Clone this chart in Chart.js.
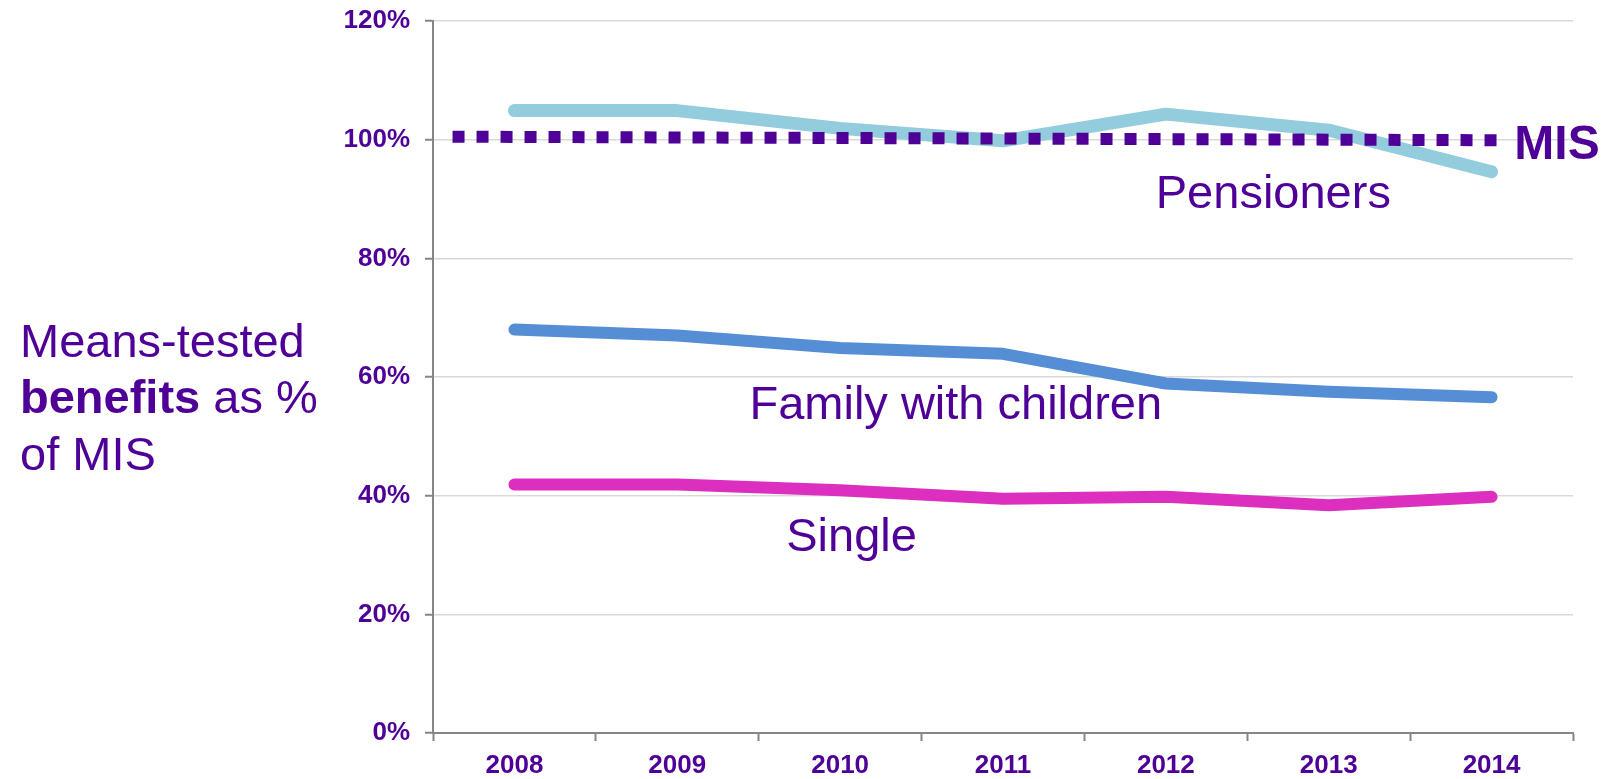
<!DOCTYPE html>
<html>
<head>
<meta charset="utf-8">
<script src="https://cdn.jsdelivr.net/npm/chart.js@4.4.1/dist/chart.umd.min.js"></script>
<style>
  html, body { margin: 0; padding: 0; background: #fff; }
  #wrap { width: 1602px; height: 779px; }
</style>
</head>
<body>
<div id="wrap"><canvas id="benefitsChart" width="1602" height="779"></canvas></div>
<script>
// values (percent of MIS)
const years = ["2008", "2009", "2010", "2011", "2012", "2013", "2014"];
const pensioners = [104.9, 104.9, 101.9, 99.8, 104.3, 101.6, 94.6];
const families = [68.0, 67.0, 64.9, 63.9, 58.9, 57.5, 56.6];
const singles = [41.9, 41.9, 40.9, 39.5, 39.8, 38.4, 39.8];

// MIS reference line, x in category units (0 = 2008)
const misX = [-0.38, 6.1];
const misValues = [100.5, 99.9];

const yTicks = [0, 20, 40, 60, 80, 100, 120];

// series labels placed in data units: [text, x, y, bold, align]
const seriesLabels = [
  ["Pensioners", 4.66, 88.4, false, "center"],
  ["Family with children", 2.71, 52.9, false, "center"],
  ["Single", 2.07, 30.7, false, "center"],
  ["MIS", 6.14, 96.8, true, "left"],
];

const PURPLE = "#4e0097";
const FONT = "'Liberation Sans', Arial, sans-serif";

const labelPlugin = {
  id: "seriesLabels",
  afterDatasetsDraw(chart) {
    const ctx = chart.ctx;
    const xs = chart.scales.xm;
    const ys = chart.scales.y;
    ctx.save();
    ctx.fillStyle = PURPLE;
    ctx.textBaseline = "alphabetic";
    seriesLabels.forEach(([text, x, y, bold, align]) => {
      ctx.font = (bold ? "bold 48px " : "47px ") + FONT;
      ctx.textAlign = align;
      ctx.fillText(text, xs.getPixelForValue(x), ys.getPixelForValue(y));
    });
    ctx.restore();
  },
};

const titlePlugin = {
  id: "yTitle",
  afterDraw(chart) {
    const ctx = chart.ctx;
    ctx.save();
    ctx.fillStyle = PURPLE;
    ctx.textAlign = "left";
    ctx.textBaseline = "alphabetic";
    ctx.font = "47px " + FONT;
    ctx.fillText("Means-tested", 20, 357);
    ctx.font = "bold 47px " + FONT;
    ctx.fillText("benefits", 20, 413);
    const w = ctx.measureText("benefits").width;
    ctx.font = "47px " + FONT;
    ctx.fillText(" as %", 20 + w, 413);
    ctx.fillText("of MIS", 20, 470);
    ctx.restore();
  },
};

const ctx = document.getElementById("benefitsChart").getContext("2d");

new Chart(ctx, {
  type: "line",
  data: {
    labels: years,
    datasets: [
      {
        label: "MIS",
        xAxisID: "xm",
        data: misX.map((x, i) => ({ x, y: misValues[i] })),
        borderColor: PURPLE,
        borderWidth: 12,
        borderDash: [12, 12],
        borderCapStyle: "butt",
        pointRadius: 0,
        order: 0,
      },
      {
        label: "Pensioners",
        data: pensioners,
        borderColor: "#93cddd",
        borderWidth: 13,
        order: 1,
      },
      {
        label: "Family with children",
        data: families,
        borderColor: "#558ed5",
        borderWidth: 12,
        order: 2,
      },
      {
        label: "Single",
        data: singles,
        borderColor: "#dc2fbf",
        borderWidth: 12,
        order: 3,
      },
    ],
  },
  options: {
    responsive: false,
    maintainAspectRatio: false,
    animation: false,
    devicePixelRatio: 1,
    layout: { padding: { left: 0, right: 29, top: 21, bottom: 0 } },
    elements: {
      line: { tension: 0, borderCapStyle: "round", borderJoinStyle: "round" },
      point: { radius: 0 },
    },
    scales: {
      x: {
        type: "category",
        offset: true,
        grid: {
          offset: true,
          drawOnChartArea: false,
          tickLength: 8,
          tickColor: "#868686",
          tickWidth: 2,
        },
        border: { color: "#868686", width: 2 },
        ticks: {
          color: PURPLE,
          padding: 9,
          maxRotation: 0,
          font: { family: FONT, size: 26, weight: "bold" },
        },
        afterFit(scale) {
          scale.height = 46;
        },
      },
      xm: {
        type: "linear",
        display: false,
        min: -0.5,
        max: 6.5,
      },
      y: {
        min: 0,
        max: 120,
        afterBuildTicks(scale) {
          scale.ticks = yTicks.map((v) => ({ value: v }));
        },
        grid: {
          color: "#d9d9d9",
          lineWidth: 1.5,
          tickLength: 8,
          tickColor: "#868686",
          tickWidth: 2,
        },
        border: { color: "#868686", width: 2 },
        ticks: {
          color: PURPLE,
          padding: 15,
          font: { family: FONT, size: 26, weight: "bold" },
          callback: (v) => v + "%",
        },
        afterFit(scale) {
          scale.width = 433;
          scale.paddingTop = 0;
          scale.paddingBottom = 0;
        },
      },
    },
    plugins: {
      legend: { display: false },
      tooltip: { enabled: false },
    },
  },
  plugins: [labelPlugin, titlePlugin],
});
</script>
</body>
</html>
